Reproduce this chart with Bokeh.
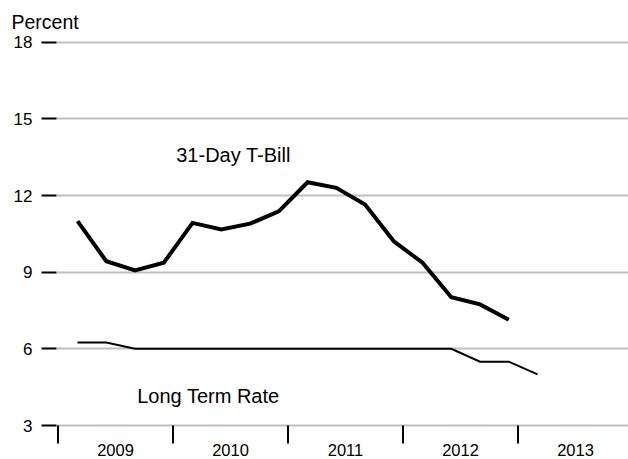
from bokeh.plotting import figure
from bokeh.models import Range1d, FixedTicker, Label, Title
from bokeh.embed import file_html
from bokeh.resources import INLINE

# ---- data ----
tbill_quarters = ["2009Q1", "2009Q2", "2009Q3", "2009Q4",
                  "2010Q1", "2010Q2", "2010Q3", "2010Q4",
                  "2011Q1", "2011Q2", "2011Q3", "2011Q4",
                  "2012Q1", "2012Q2", "2012Q3", "2012Q4"]
tbill_values = [11.0, 9.43, 9.07, 9.37, 10.93, 10.67, 10.9, 11.38,
                12.52, 12.3, 11.65, 10.21, 9.37, 8.02, 7.74, 7.14]

longterm_quarters = tbill_quarters + ["2013Q1"]
longterm_values = [6.25, 6.25, 6.0, 6.0, 6.0, 6.0, 6.0, 6.0, 6.0,
                   6.0, 6.0, 6.0, 6.0, 6.0, 5.5, 5.5, 5.0]

years = [2009, 2010, 2011, 2012, 2013]
year_labels = ["2009", "2010", "2011", "2012", "2013"]
y_ticks = [3, 6, 9, 12, 15, 18]

FONT = "Liberation Sans"

# ---- scale set-up (pixels per unit) ----
PX_PER_YEAR = 115.0
PX_PER_PCT = 25.55
W, H = 628, 459
LEFT, TOP = 56, 34
X0 = 2009 - 1.5 / PX_PER_YEAR
Y_BOTTOM_PX = 425  # where 3 % sits
Y0 = 3 - (H - Y_BOTTOM_PX) / PX_PER_PCT
Y1 = 3 + (Y_BOTTOM_PX - TOP) / PX_PER_PCT
X1 = X0 + (W - LEFT) / PX_PER_YEAR


def qpos(q):
    # data sit near the start of the third month of each quarter
    y = int(q[:4])
    n = int(q[-1])
    return y + (n - 1) * 0.25 + 0.17


tb_x = [qpos(q) for q in tbill_quarters]
lt_x = [qpos(q) for q in longterm_quarters]

p = figure(width=W, height=H, output_backend="svg", toolbar_location=None,
           x_range=Range1d(X0, X1), y_range=Range1d(Y0, Y1),
           x_axis_location=None,
           min_border_left=LEFT, min_border_right=0, min_border_top=TOP, min_border_bottom=0)
p.outline_line_color = None
p.background_fill_color = "white"
p.border_fill_color = "white"

# grid
p.xgrid.grid_line_color = None
p.ygrid.grid_line_color = "#c0c0c0"
p.ygrid.grid_line_width = 2
p.ygrid.ticker = FixedTicker(ticks=y_ticks)

# y axis
yax = p.yaxis[0]
yax.ticker = FixedTicker(ticks=y_ticks)
yax.axis_line_color = None
yax.major_tick_out = 15
yax.major_tick_in = 0
yax.major_tick_line_width = 2
yax.major_tick_line_color = "black"
yax.minor_tick_line_color = None
yax.major_label_standoff = 9
yax.major_label_text_font = FONT
yax.major_label_text_font_size = "17px"
yax.major_label_text_color = "black"

# x "axis": boundary ticks and year labels below the 3 % line
tick_len = 18 / PX_PER_PCT
p.segment(x0=years, y0=[3] * len(years), x1=years, y1=[3 - tick_len] * len(years),
          line_color="black", line_width=2)
label_y = 3 - 24.5 / PX_PER_PCT
p.text(x=[y + 0.5 for y in years], y=[label_y] * len(years), text=year_labels,
       text_align="center", text_baseline="middle", text_font={"value": FONT},
       text_font_size={"value": "16.5px"}, text_color="black")

# lines
p.line(tb_x, tbill_values, line_color="black", line_width=4, line_join="miter")
p.line(lt_x, longterm_values, line_color="black", line_width=2, line_join="miter")

# annotations
p.add_layout(Label(x=2010.028, y=13.57, text="31-Day T-Bill", text_font=FONT,
                   text_font_size="20px", text_baseline="middle", text_color="black"))
p.add_layout(Label(x=2009.689, y=4.17, text="Long Term Rate", text_font=FONT,
                   text_font_size="20px", text_baseline="middle", text_color="black"))

t = Title(text="Percent", align="left", offset=-(LEFT - 11), text_font=FONT,
          text_font_size="19.5px", text_font_style="normal", text_color="black",
          standoff=4)
p.add_layout(t, "above")

open("out.html", "w").write(file_html(p, INLINE))
